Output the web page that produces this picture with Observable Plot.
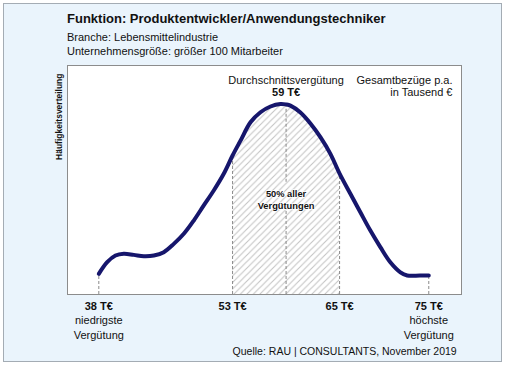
<!DOCTYPE html>
<html><head><meta charset="utf-8">
<script src="https://cdn.jsdelivr.net/npm/d3@7"></script>
<script src="https://cdn.jsdelivr.net/npm/@observablehq/plot@0.6"></script>
<style>
body{margin:0;background:#fff;font-family:"Liberation Sans",Arial,sans-serif;color:#111;}
#wrap{position:relative;width:505px;height:366px;overflow:hidden;}
#panel{position:absolute;left:3px;top:3px;width:499px;height:359px;box-sizing:border-box;border:1px solid #a4acb4;background:#eaf4fc;}
.t{position:absolute;left:67px;line-height:1;white-space:nowrap;}
#chart{position:absolute;left:0;top:60px;}
</style></head><body>
<div id="wrap">
<div id="panel"></div>
<div class="t" id="title" style="top:12.3px;font-size:13px;font-weight:bold"></div>
<div class="t" id="sub1" style="top:31.7px;font-size:11px"></div>
<div class="t" id="sub2" style="top:46.3px;font-size:11px"></div>
<div id="chart"></div>
<div class="t" id="source" style="left:auto;right:48.3px;top:345.5px;font-size:10.5px"></div>
</div>
<script>
// ---- data ----
const titleText = "Funktion: Produktentwickler/Anwendungstechniker";
const subtitle1 = "Branche: Lebensmittelindustrie";
const subtitle2 = "Unternehmensgröße: größer 100 Mitarbeiter";
const sourceText = "Quelle: RAU | CONSULTANTS, November 2019";
const yAxisLabel = "Häufigkeitsverteilung";

// salary (T€) and relative frequency (% of plot height)
const salary = [38, 38.94, 39.87, 40.8, 41.92, 43.05, 44.17, 45.29, 46.41, 47.53, 48.65, 49.77, 50.89, 52.01, 53, 53.89, 55.01, 56.13, 57.25, 58.37, 59, 59.49, 60.61, 61.73, 62.85, 63.97, 65, 66.21, 67.33, 68.45, 69.57, 70.69, 71.82, 72.58, 74, 75];
const freq   = [9.0, 14.1, 17.0, 17.8, 17.3, 16.7, 17.0, 18.5, 22.1, 26.5, 32.3, 38.9, 45.4, 52.7, 60.7, 67.2, 75.2, 79.6, 82.1, 83.2, 83.0, 82.5, 79.5, 74.7, 68.7, 61.4, 52.8, 44.0, 35.9, 27.9, 20.7, 14.1, 9.7, 8.3, 8.3, 8.3];

const markerSalaries = [38, 53, 65, 75];
const markerLabels = ["38 T€", "53 T€", "65 T€", "75 T€"];
const markerNotes = ["niedrigste\nVergütung", "", "", "höchste\nVergütung"];
const meanSalary = 59;
const meanLabel = "59 T€";
const meanTitle = "Durchschnittsvergütung";
const unitLabel1 = "Gesamtbezüge p.a.";
const unitLabel2 = "in Tausend €";
const rangeLow = 53, rangeHigh = 65;
const middleLabel = "50% aller\nVergütungen";
const middleLabelFreq = 41.5;
const meanGap = [36.7, 49.0];

// ---- build ----
document.getElementById("title").textContent = titleText;
document.getElementById("sub1").textContent = subtitle1;
document.getElementById("sub2").textContent = subtitle2;
document.getElementById("source").textContent = sourceText;

const pts = salary.map((x, i) => ({x, y: freq[i]}));
const at = v => pts.find(p => p.x === v).y;
const markers = markerSalaries.map((x, i) => ({x, y: at(x), label: markerLabels[i], note: markerNotes[i]}));
const meanSegs = [{y1: 0, y2: meanGap[0]}, {y1: meanGap[1], y2: at(meanSalary)}];
const dash = {stroke: "#8a8a8a", strokeDasharray: "3,2", strokeWidth: 1};
const font = "Liberation Sans, Arial, sans-serif";

const chart = Plot.plot({
  width: 505, height: 306,
  marginTop: 5, marginBottom: 72, marginLeft: 67, marginRight: 44,
  x: {domain: [34.49, 78.67], axis: null},
  y: {domain: [0, 100], axis: null},
  style: {background: "transparent", overflow: "visible", fontFamily: font, color: "#111"},
  marks: [
    Plot.frame({fill: "white"}),
    Plot.areaY(pts.filter(p => p.x >= rangeLow && p.x <= rangeHigh), {x: "x", y: "y", fill: "url(#hatch)", curve: "catmull-rom"}),
    Plot.ruleX(markers, {x: "x", y1: 0, y2: "y", ...dash}),
    Plot.ruleX(meanSegs, {x: meanSalary, y1: "y1", y2: "y2", ...dash}),
    Plot.line(pts, {x: "x", y: "y", stroke: "#16166c", strokeWidth: 4, curve: "catmull-rom"}),
    Plot.frame({stroke: "#8c8c8c"}),
    Plot.text([meanTitle], {x: meanSalary, y: 92.1, text: d => d, lineAnchor: "bottom", fontSize: 11, fill: "#111"}),
    Plot.text([meanLabel], {x: meanSalary, y: 86.7, text: d => d, lineAnchor: "bottom", fontSize: 11, fontWeight: "bold", fill: "#111"}),
    Plot.text([unitLabel1], {x: 77.66, y: 92.1, text: d => d, lineAnchor: "bottom", textAnchor: "end", fontSize: 11, fill: "#111"}),
    Plot.text([unitLabel2], {x: 77.66, y: 86.7, text: d => d, lineAnchor: "bottom", textAnchor: "end", fontSize: 11, fill: "#111"}),
    Plot.text([middleLabel], {x: meanSalary, y: middleLabelFreq, text: d => d, lineAnchor: "middle", lineHeight: 1.2, fontSize: 9.3, fontWeight: "bold", fill: "#111", stroke: "white", strokeWidth: 1.5}),
    Plot.text(markers, {x: "x", text: "label", frameAnchor: "bottom", lineAnchor: "bottom", dy: 15.5, fontSize: 11, fontWeight: "bold", fill: "#111"}),
    Plot.text(markers, {x: "x", text: "note", frameAnchor: "bottom", lineAnchor: "top", dy: 18.7, lineHeight: 1.364, fontSize: 11, fill: "#111"}),
    Plot.text([yAxisLabel], {frameAnchor: "top-left", text: d => d, rotate: -90, textAnchor: "end", lineAnchor: "bottom", dx: -6, dy: 8, fontSize: 8.5, fontWeight: "bold", fill: "#111"})
  ]
});

const ns = "http://www.w3.org/2000/svg";
const defs = document.createElementNS(ns, "defs");
defs.innerHTML = '<pattern id="hatch" patternUnits="userSpaceOnUse" width="6.5" height="6.5"><path d="M-1,1 l2,-2 M0,6.5 l6.5,-6.5 M5.5,7.5 l2,-2" stroke="#c4c4c4" stroke-width="1.1"/></pattern>';
chart.insertBefore(defs, chart.firstChild);
document.getElementById("chart").appendChild(chart);
</script>
</body></html>
